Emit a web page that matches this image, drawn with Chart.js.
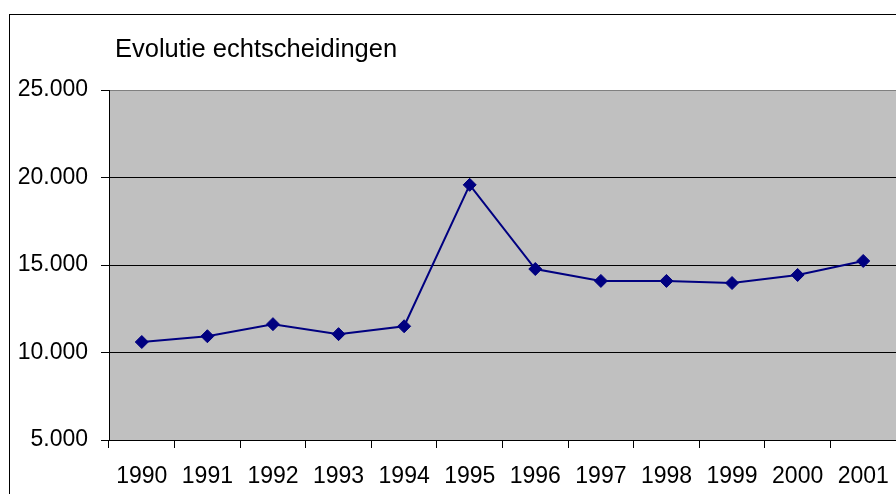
<!DOCTYPE html>
<html>
<head>
<meta charset="utf-8">
<script src="https://cdn.jsdelivr.net/npm/chart.js@4"></script>
<style>
  html, body { margin: 0; padding: 0; background: #fff; overflow: hidden; }
</style>
</head>
<body>
<canvas id="chart" width="896" height="494"></canvas>
<script>
// Data
const years = ['1990', '1991', '1992', '1993', '1994', '1995', '1996', '1997', '1998', '1999', '2000', '2001'];
const divorces = [10600, 10930, 11620, 11050, 11500, 19580, 14770, 14090, 14090, 13970, 14430, 15230];
const yTicks = [5000, 10000, 15000, 20000, 25000];

const FONT = "'Liberation Sans', Arial, sans-serif";

// dutch thousand separator: 25000 -> 25.000
function formatNl(v) {
    return String(v).replace(/\B(?=(\d{3})+(?!\d))/g, '.');
}

// grey plot area + outer frame, title nudged to the right
const backgroundPlugin = {
    id: 'background',
    afterLayout(chart) {
        if (chart.titleBlock) {
            chart.titleBlock.left += 6;
            chart.titleBlock.right += 6;
        }
    },
    beforeDraw(chart) {
        const ctx = chart.ctx;
        const a = chart.chartArea;
        ctx.save();
        ctx.strokeStyle = '#000';
        ctx.lineWidth = 1;
        ctx.strokeRect(9.5, 14.5, chart.width + 20, chart.height + 20);
        ctx.fillStyle = '#c0c0c0';
        ctx.fillRect(a.left, a.top, a.right - a.left + 10, a.bottom - a.top);
        ctx.strokeStyle = '#808080';
        ctx.strokeRect(a.left + 0.5, a.top + 0.5, a.right - a.left + 20, a.bottom - a.top);
        ctx.restore();
    }
};

new Chart(document.getElementById('chart'), {
    type: 'line',
    data: {
        labels: years,
        datasets: [{
            label: 'Echtscheidingen',
            data: divorces,
            borderColor: '#000080',
            backgroundColor: '#000080',
            borderWidth: 2,
            pointStyle: 'rectRot',
            pointRadius: 6.5,
            pointBorderWidth: 1,
            tension: 0,
            clip: false
        }]
    },
    options: {
        responsive: false,
        devicePixelRatio: 1,
        animation: false,
        layout: { autoPadding: false, padding: 0 },
        plugins: {
            legend: { display: false },
            tooltip: { enabled: false },
            title: {
                display: true,
                text: 'Evolutie echtscheidingen',
                align: 'start',
                fullSize: false,
                color: '#000',
                font: { family: FONT, size: 25.5, weight: 'normal', lineHeight: 1.2 },
                padding: { top: 35, bottom: 24.4 }
            }
        },
        scales: {
            x: {
                offset: true,
                afterFit(scale) {
                    scale.height = 54;
                    scale.paddingLeft = 0;
                    scale.paddingRight = 0;
                },
                grid: {
                    offset: true,
                    drawOnChartArea: false,
                    drawTicks: true,
                    tickLength: 8,
                    color: '#000'
                },
                border: { color: '#000', width: 1 },
                ticks: {
                    color: '#000',
                    padding: 15,
                    maxRotation: 0,
                    autoSkip: false,
                    font: { family: FONT, size: 23 }
                }
            },
            y: {
                min: yTicks[0],
                max: yTicks[yTicks.length - 1],
                afterFit(scale) { scale.width = 109; },
                afterBuildTicks(scale) { scale.ticks = yTicks.map(v => ({ value: v })); },
                grid: {
                    color: ctx => (ctx.tick && ctx.tick.value === 25000) ? '#808080' : '#000',
                    tickColor: '#000',
                    tickLength: 8,
                    lineWidth: 1
                },
                border: { color: '#000', width: 1 },
                ticks: {
                    color: '#000',
                    padding: 13,
                    font: { family: FONT, size: 23 },
                    callback: v => formatNl(v)
                }
            }
        }
    },
    plugins: [backgroundPlugin]
});
</script>
</body>
</html>
